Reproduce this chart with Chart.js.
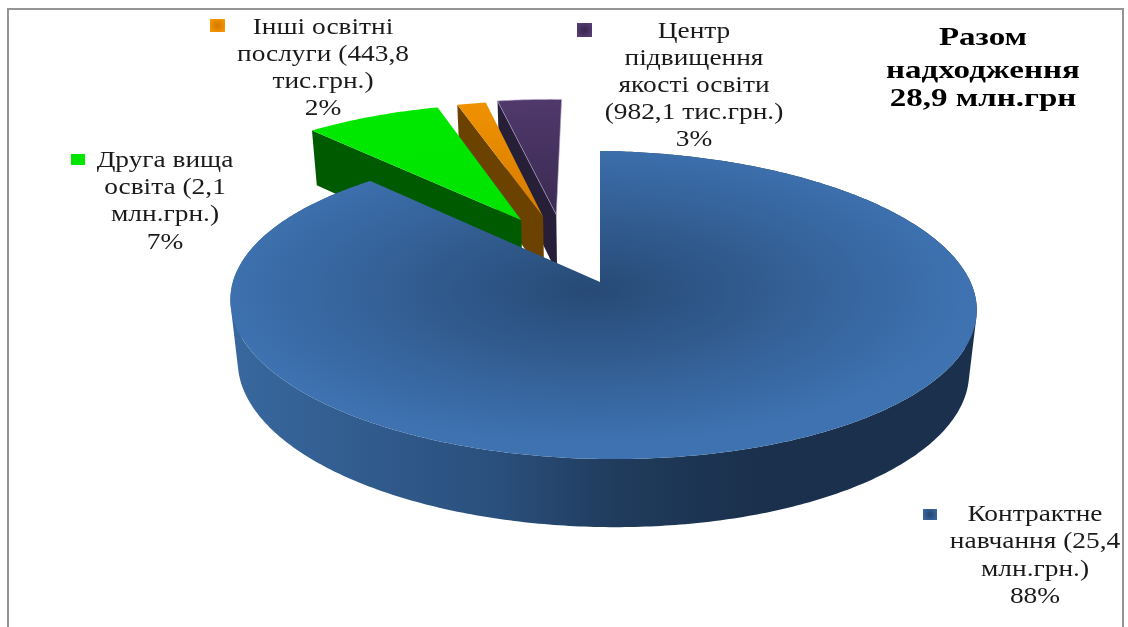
<!DOCTYPE html>
<html><head><meta charset="utf-8">
<style>html,body{margin:0;padding:0;background:#fff}#w{position:relative;width:1128px;height:627px}canvas{display:block}</style>
<script src="https://cdn.jsdelivr.net/npm/chart.js@4/dist/chart.umd.min.js"></script>
</head><body><div id="w"><canvas id="c" width="1128" height="627"></canvas></div>
<script>
// ---- data ----
const categories = ['Контрактне навчання', 'Друга вища освіта', 'Інші освітні послуги', 'Центр підвищення якості освіти'];
const amounts = [25.4, 2.1, 0.4438, 0.9821];           // млн.грн
const percents = ['88%', '7%', '2%', '3%'];
const totalLines = ['Разом', 'надходження', '28,9 млн.грн'];
// ---- styling ----
const explodeU = [0, -0.228, -0.165, -0.127];
const explodeV = [0, -0.43, -0.458, -0.475];
const topInner = ['#274a75', '#00e400', '#d67c00', '#3a2a52'];
const topOuter = ['#3e72b1', '#00ea00', '#ff9f00', '#5e417b'];
const wallColor = ['#1c3553', '#005a00', '#6b4200', '#271e38'];
const paintOrder = [3, 2, 1, 0];
const P = {x0: 600, y0: 282, a: 369, b: 150.6, k: 0.149, m: 0.0095, t: 5, h: 62.8, e: 0.02};

function proj(u, v, low) {
  const w = 1 - P.k * v - P.m * u + (low ? P.e : 0);
  return [P.x0 + P.a * u / w, P.y0 + (P.b * v + (low ? P.h : 0)) / w + P.t * u];
}
function sample(el, du, dv) {
  const n = Math.max(4, Math.ceil((el.endAngle - el.startAngle) / 0.012));
  const pts = [];
  for (let i = 0; i <= n; i++) {
    const t = el.startAngle + (el.endAngle - el.startAngle) * i / n;
    pts.push([Math.cos(t) + du, Math.sin(t) + dv]);
  }
  return pts;
}
function poly(ctx, list, style) {
  ctx.beginPath();
  list.forEach((p, n) => n ? ctx.lineTo(p[0], p[1]) : ctx.moveTo(p[0], p[1]));
  ctx.closePath();
  ctx.fillStyle = style;
  ctx.fill();
}
// Outer wall: every strip wound the same way inside one path, so there are no seams or holes.
function outerWall(ctx, pts, style) {
  ctx.beginPath();
  for (let j = 0; j < pts.length - 1; j++) {
    let q = [proj(pts[j][0], pts[j][1]), proj(pts[j + 1][0], pts[j + 1][1]),
             proj(pts[j + 1][0], pts[j + 1][1], true), proj(pts[j][0], pts[j][1], true)];
    let area = 0;
    q.forEach((a, n) => { const b = q[(n + 1) % 4]; area += a[0] * b[1] - b[0] * a[1]; });
    if (area < 0) q = q.reverse();
    q.forEach((p, n) => n ? ctx.lineTo(p[0], p[1]) : ctx.moveTo(p[0], p[1]));
    ctx.closePath();
  }
  ctx.fillStyle = style;
  ctx.fill('nonzero');
}
function paintSlice(ctx, el) {
  const i = el.$context.dataIndex;
  const du = explodeU[i], dv = explodeV[i];
  const pts = sample(el, du, dv);
  const C = [du, dv];
  if (i === 0) {
    const g = ctx.createLinearGradient(230, 0, 977, 0);
    g.addColorStop(0, '#38689f'); g.addColorStop(0.36, '#2a4f7c'); g.addColorStop(0.52, '#203b5c');
    g.addColorStop(0.71, '#1a304c'); g.addColorStop(1, '#1a304c');
    outerWall(ctx, pts, g);
  } else {
    const a = pts[0];
    poly(ctx, [proj(a[0], a[1]), proj(C[0], C[1]), proj(C[0], C[1], true), proj(a[0], a[1], true)], wallColor[i]);
  }
  const A = proj(C[0], C[1]);
  ctx.beginPath();
  ctx.moveTo(A[0], A[1]);
  pts.forEach(p => { const s = proj(p[0], p[1]); ctx.lineTo(s[0], s[1]); });
  ctx.closePath();
  ctx.save();
  ctx.translate(A[0] - (i === 0 ? 10 : 0), A[1] + (i === 0 ? 8 : 0));
  ctx.scale(P.a, P.b);
  const g = ctx.createRadialGradient(0, 0, 0, 0, 0, i === 0 ? 1.02 : 1.25);
  g.addColorStop(0, topInner[i]); g.addColorStop(1, topOuter[i]);
  ctx.fillStyle = g;
  ctx.fill();
  ctx.restore();
  if (i === 3) { ctx.strokeStyle = '#b7a7c9'; ctx.lineWidth = 0.6; ctx.stroke(); }
}
// Slices keep the angles Chart.js computes; only the way an arc is painted changes,
// so the pie reads as a tilted, exploded 3-D disc painted back to front.
Chart.ArcElement.prototype.draw = function (ctx) {
  if (this.$context.dataIndex !== 0) return;
  const all = this.$context.chart.getDatasetMeta(0).data;
  ctx.save();
  paintOrder.forEach(n => paintSlice(ctx, all[n]));
  ctx.restore();
};

const labelBlocks = [
  {i: 1, lines: ['Друга вища', 'освіта (2,1', 'млн.грн.)', '7%'], cx: 165, y: 161, dy: 27.2, kx: 71, ky: 154, kw: 14, kh: 11},
  {i: 2, lines: ['Інші освітні', 'послуги (443,8', 'тис.грн.)', '2%'], cx: 323, y: 27.5, dy: 27.2, kx: 210, ky: 19, kw: 15, kh: 13},
  {i: 3, lines: ['Центр', 'підвищення', 'якості освіти', '(982,1 тис.грн.)', '3%'], cx: 694, y: 32, dy: 27, kx: 577, ky: 23, kw: 15, kh: 14},
  {i: 0, lines: ['Контрактне', 'навчання (25,4', 'млн.грн.)', '88%'], cx: 1035, y: 515, dy: 27.4, kx: 923, ky: 509, kw: 14, kh: 11}
];
function stretched(ctx, s, cx, y, sx) {
  ctx.save(); ctx.translate(cx, y); ctx.scale(sx, 1); ctx.fillText(s, 0, 0); ctx.restore();
}
const textPlugin = {
  id: 'texts',
  afterDraw(chart) {
    const ctx = chart.ctx;
    ctx.save();
    ctx.strokeStyle = '#959595'; ctx.lineWidth = 2;
    ctx.beginPath(); ctx.moveTo(8, 627); ctx.lineTo(8, 9); ctx.lineTo(1123, 9); ctx.lineTo(1123, 627); ctx.stroke();
    ctx.textAlign = 'center'; ctx.textBaseline = 'middle';
    labelBlocks.forEach(b => {
      const kg = ctx.createRadialGradient(b.kx + b.kw / 2, b.ky + b.kh / 2, 1, b.kx + b.kw / 2, b.ky + b.kh / 2, b.kw * 0.7);
      kg.addColorStop(0, topInner[b.i]); kg.addColorStop(1, topOuter[b.i]);
      ctx.fillStyle = kg; ctx.fillRect(b.kx, b.ky, b.kw, b.kh);
      ctx.fillStyle = '#1a1a1a';
      ctx.font = '23px "Liberation Serif"';
      b.lines.forEach((l, n) => stretched(ctx, l, b.cx, b.y + n * b.dy, 1.19));
    });
    ctx.font = 'bold 26px "Liberation Serif"'; ctx.fillStyle = '#000';
    [38, 71, 99].forEach((y, n) => stretched(ctx, totalLines[n], 983, y, 1.27));
    ctx.restore();
  }
};
new Chart(document.getElementById('c'), {
  type: 'pie',
  data: {labels: categories, datasets: [{data: amounts}]},
  options: {
    responsive: false, animation: false, rotation: 0,
    layout: {padding: 0},
    plugins: {legend: {display: false}, tooltip: {enabled: false}, title: {display: false}}
  },
  plugins: [textPlugin]
});
</script></body></html>
